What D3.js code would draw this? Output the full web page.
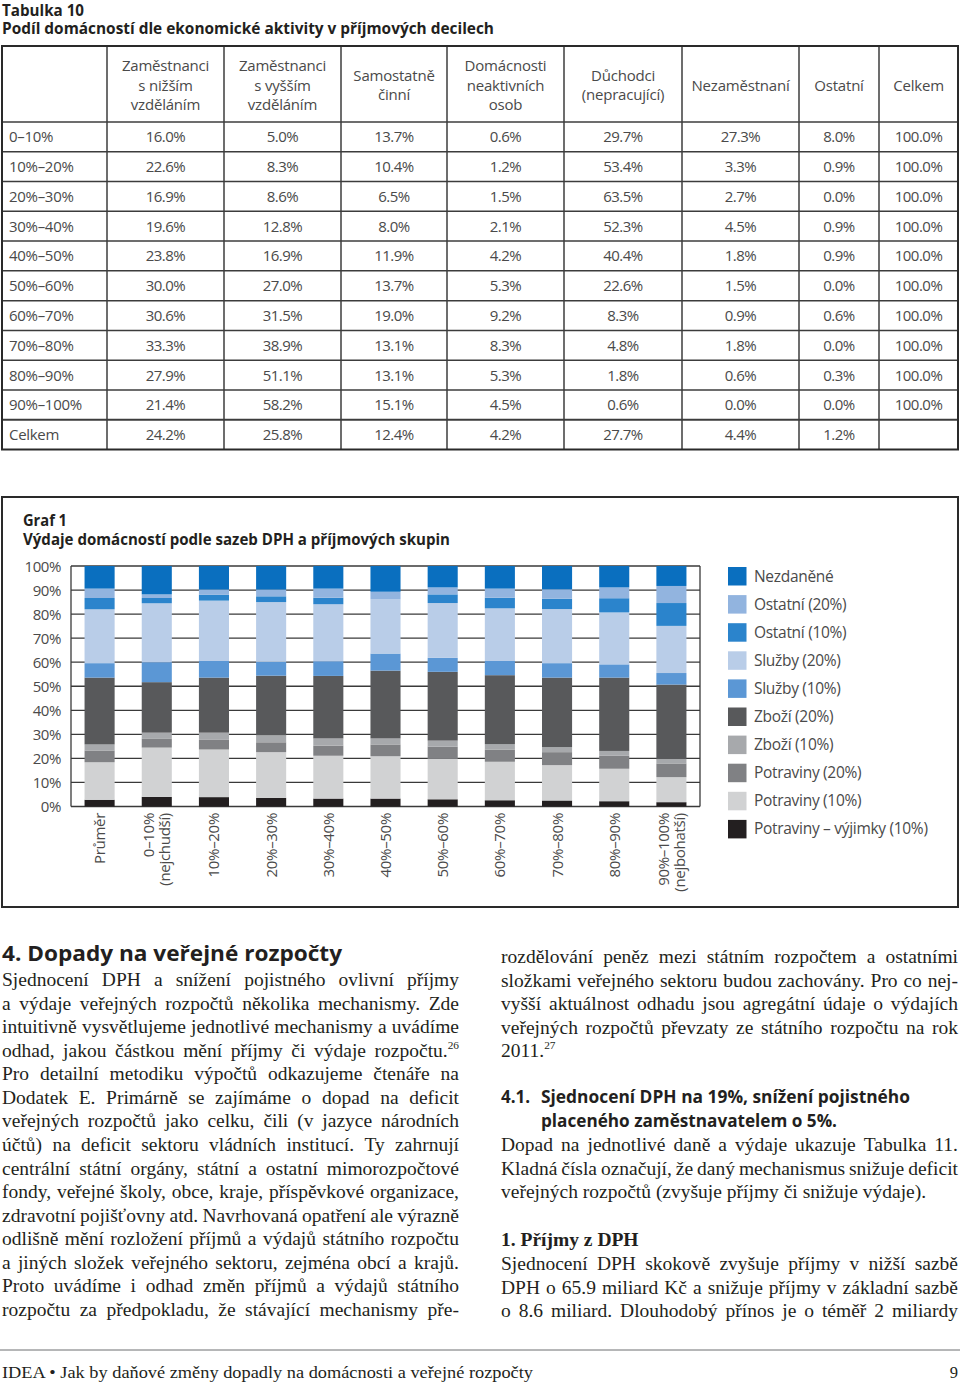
<!DOCTYPE html>
<html><head><meta charset="utf-8">
<script src="https://cdn.jsdelivr.net/npm/d3@7"></script>
<style>html,body{margin:0;padding:0;background:#fff;}svg{display:block;}</style>
</head><body>
<script>
// ---------- Table 10 data ----------
const tabColHeaders = [[], ["Zaměstnanci","s nižším","vzděláním"], ["Zaměstnanci","s vyšším","vzděláním"], ["Samostatně","činní"], ["Domácnosti","neaktivních","osob"], ["Důchodci","(nepracující)"], ["Nezaměstnaní"], ["Ostatní"], ["Celkem"]];
const tabRowLabels = ["0–10%","10%–20%","20%–30%","30%–40%","40%–50%","50%–60%","60%–70%","70%–80%","80%–90%","90%–100%","Celkem"];
const tabZamNizsi   = [16.0,22.6,16.9,19.6,23.8,30.0,30.6,33.3,27.9,21.4,24.2];
const tabZamVyssi   = [5.0,8.3,8.6,12.8,16.9,27.0,31.5,38.9,51.1,58.2,25.8];
const tabSamostatne = [13.7,10.4,6.5,8.0,11.9,13.7,19.0,13.1,13.1,15.1,12.4];
const tabNeaktivni  = [0.6,1.2,1.5,2.1,4.2,5.3,9.2,8.3,5.3,4.5,4.2];
const tabDuchodci   = [29.7,53.4,63.5,52.3,40.4,22.6,8.3,4.8,1.8,0.6,27.7];
const tabNezamestnani = [27.3,3.3,2.7,4.5,1.8,1.5,0.9,1.8,0.6,0.0,4.4];
const tabOstatni    = [8.0,0.9,0.0,0.9,0.9,0.0,0.6,0.0,0.3,0.0,1.2];
const tabCelkem     = [100,100,100,100,100,100,100,100,100,100,null];

// ---------- Graf 1 data ----------
const groups = ["Průměr","0–10% (nejchudší)","10%–20%","20%–30%","30%–40%","40%–50%","50%–60%","60%–70%","70%–80%","80%–90%","90%–100% (nejbohatší)"];
const groupLabels = [["Průměr"],["0–10%","(nejchudší)"],["10%–20%"],["20%–30%"],["30%–40%"],["40%–50%"],["50%–60%"],["60%–70%"],["70%–80%"],["80%–90%"],["90%–100%","(nejbohatší)"]];
const potravinyVyjimky = [2.8,4.0,3.9,3.6,3.3,3.3,3.0,2.6,2.5,2.2,1.8];
const potraviny10 = [15.6,20.5,19.8,19.0,17.8,17.6,16.8,16.0,14.7,13.5,10.4];
const potraviny20 = [4.9,3.8,4.0,4.1,4.2,4.9,5.1,5.1,5.4,5.5,5.7];
const zbozi10     = [2.5,2.4,3.0,2.9,3.0,2.5,2.5,2.2,2.1,1.9,1.8];
const zbozi20     = [27.8,21.0,22.9,24.8,26.0,28.2,28.6,28.7,28.9,30.5,31.0];
const sluzby10    = [6.0,8.3,6.9,5.8,6.1,7.1,5.8,5.9,6.0,5.5,4.8];
const sluzby20    = [22.4,24.5,25.1,24.8,23.7,22.5,22.8,21.9,22.5,21.6,19.6];
const ostatni10   = [4.7,2.2,2.4,2.4,2.7,0.0,3.6,4.4,4.3,5.9,9.5];
const ostatni20   = [3.9,1.5,2.2,2.8,3.8,3.2,2.9,3.8,3.9,4.5,7.1];
const nezdanene   = [9.4,11.8,9.8,9.8,9.4,10.7,8.9,9.4,9.7,8.9,8.3];
const seriesNames = ["Potraviny – výjimky (10%)","Potraviny (10%)","Potraviny (20%)","Zboží (10%)","Zboží (20%)","Služby (10%)","Služby (20%)","Ostatní (10%)","Ostatní (20%)","Nezdaněné"];
const seriesValues = [potravinyVyjimky,potraviny10,potraviny20,zbozi10,zbozi20,sluzby10,sluzby20,ostatni10,ostatni20,nezdanene];
const seriesColors = ["#231f20","#d1d2d3","#808184","#a7a9ac","#58595b","#5b97d5","#b9cde8","#2b84cc","#92b4df","#0a6fbf"];
const yTicks = [0,10,20,30,40,50,60,70,80,90,100];

// ---------- Text ----------
const leftLines = [
 "Sjednocení DPH a snížení pojistného ovlivní příjmy",
 "a výdaje veřejných rozpočtů několika mechanismy. Zde",
 "intuitivně vysvětlujeme jednotlivé mechanismy a uvádíme",
 "odhad, jakou částkou mění příjmy či výdaje rozpočtu.^26",
 "Pro detailní metodiku výpočtů odkazujeme čtenáře na",
 "Dodatek E. Primárně se zajímáme o dopad na deficit",
 "veřejných rozpočtů jako celku, čili (v jazyce národních",
 "účtů) na deficit sektoru vládních institucí. Ty zahrnují",
 "centrální státní orgány, státní a ostatní mimorozpočtové",
 "fondy, veřejné školy, obce, kraje, příspěvkové organizace,",
 "zdravotní pojišťovny atd. Navrhovaná opatření ale výrazně",
 "odlišně mění rozložení příjmů a výdajů státního rozpočtu",
 "a jiných složek veřejného sektoru, zejména obcí a krajů.",
 "Proto uvádíme i odhad změn příjmů a výdajů státního",
 "rozpočtu za předpokladu, že stávající mechanismy pře-"
];
const rightBlockA = [
 "rozdělování peněz mezi státním rozpočtem a ostatními",
 "složkami veřejného sektoru budou zachovány. Pro co nej-",
 "vyšší aktuálnost odhadu jsou agregátní údaje o výdajích",
 "veřejných rozpočtů převzaty ze státního rozpočtu na rok",
 "2011.^27"
];
const rightBlockB = [
 "Dopad na jednotlivé daně a výdaje ukazuje Tabulka 11.",
 "Kladná čísla označují, že daný mechanismus snižuje deficit",
 "veřejných rozpočtů (zvyšuje příjmy či snižuje výdaje)."
];
const rightBlockC = [
 "Sjednocení DPH skokově zvyšuje příjmy v nižší sazbě",
 "DPH o 65.9 miliard Kč a snižuje příjmy v základní sazbě",
 "o 8.6 miliard. Dlouhodobý přínos je o téměř 2 miliardy"
];

// ---------- Drawing ----------
const SANS = "'Open Sans','Noto Sans',sans-serif";
const SERIF = "'Liberation Serif','DejaVu Serif',serif";
const INK = "#231f20";
const GRAYTXT = "#4a4a4a";
const svg = d3.select("body").append("svg").attr("width",960).attr("height",1385);

function fitText(sel, w){
  const n = sel.node(); const cur = n.getComputedTextLength();
  if (Math.abs(cur - w) > 1) sel.attr("textLength", w).attr("lengthAdjust","spacingAndGlyphs");
  return sel;
}

// Titles
fitText(svg.append("text").attr("x",2).attr("y",15.5).attr("font-family",SANS).attr("font-weight",700).attr("font-size",15.5).attr("fill",INK).text("Tabulka 10"),82);
fitText(svg.append("text").attr("x",2).attr("y",34).attr("font-family",SANS).attr("font-weight",700).attr("font-size",16).attr("fill",INK).text("Podíl domácností dle ekonomické aktivity v příjmových decilech"),492);

// Table
const colX = [2,107,224,341,447,564,682,799,879,958];
const tTop = 46, hdrBottom = 122, rowH = (449.5-122)/11;
const tg = svg.append("g");
const tableCols = [tabZamNizsi,tabZamVyssi,tabSamostatne,tabNeaktivni,tabDuchodci,tabNezamestnani,tabOstatni,tabCelkem];
const hLines = [hdrBottom].concat(d3.range(1,11).map(i=>hdrBottom+i*rowH));
tg.selectAll("line.h").data(hLines).join("line").attr("x1",2).attr("x2",958).attr("y1",d=>d).attr("y2",d=>d)
  .attr("stroke","#3c3c3c").attr("stroke-width",(d,i)=> i===10?2:1.5);
tg.selectAll("line.v").data(colX.slice(1,-1)).join("line").attr("x1",d=>d).attr("x2",d=>d).attr("y1",tTop).attr("y2",449.5)
  .attr("stroke","#3c3c3c").attr("stroke-width",1.5);
tg.append("rect").attr("x",2).attr("y",tTop).attr("width",956).attr("height",449.5-tTop).attr("fill","none").attr("stroke","#2a2a2a").attr("stroke-width",2);
tabColHeaders.forEach((lines,ci)=>{
  const cx = (colX[ci]+colX[ci+1])/2;
  const n = lines.length, mid = 85, lh = 19.5;
  lines.forEach((s,li)=>{
    tg.append("text").attr("x",cx).attr("y",mid + (li-(n-1)/2)*lh + 5.5).attr("text-anchor","middle")
      .attr("font-family",SANS).attr("font-weight",400).attr("font-size",15).attr("letter-spacing",-0.2).attr("fill",GRAYTXT).text(s);
  });
});
tabRowLabels.forEach((lab,ri)=>{
  const y = hdrBottom + (ri+0.5)*rowH + 5.5;
  tg.append("text").attr("x",9).attr("y",y).attr("font-family",SANS).attr("font-weight",400).attr("font-size",15).attr("letter-spacing",-0.3).attr("fill",GRAYTXT).text(lab);
  tableCols.forEach((col,ci)=>{
    const v = col[ri]; if (v==null) return;
    const cx = (colX[ci+1]+colX[ci+2])/2;
    tg.append("text").attr("x",cx).attr("y",y).attr("text-anchor","middle").attr("font-family",SANS).attr("font-weight",400)
      .attr("font-size",15).attr("letter-spacing",-0.5).attr("fill",GRAYTXT).text(v.toFixed(1)+"%");
  });
});

// Chart box
svg.append("rect").attr("x",2).attr("y",497).attr("width",956).attr("height",410).attr("fill","none").attr("stroke","#2a2a2a").attr("stroke-width",2);
fitText(svg.append("text").attr("x",23).attr("y",525.5).attr("font-family",SANS).attr("font-weight",700).attr("font-size",15.5).attr("fill",INK).text("Graf 1"),44);
fitText(svg.append("text").attr("x",23).attr("y",544.5).attr("font-family",SANS).attr("font-weight",700).attr("font-size",15.5).attr("fill",INK).text("Výdaje domácností podle sazeb DPH a příjmových skupin"),427);

const x = d3.scaleBand().domain(groups).range([71,700]).paddingInner(0.474).paddingOuter(0.237);
const y = d3.scaleLinear().domain([0,100]).range([806.5,566]);
const cg = svg.append("g");
cg.selectAll("line.grid").data(yTicks).join("line").attr("x1",71).attr("x2",700).attr("y1",d=>y(d)).attr("y2",d=>y(d))
  .attr("stroke","#3a3a3a").attr("stroke-width",1.3);
cg.append("line").attr("x1",71).attr("x2",71).attr("y1",y(100)).attr("y2",y(0)).attr("stroke","#3a3a3a").attr("stroke-width",1.3);
cg.append("line").attr("x1",700).attr("x2",700).attr("y1",y(100)).attr("y2",y(0)).attr("stroke","#3a3a3a").attr("stroke-width",1.3);
cg.selectAll("text.yt").data(yTicks).join("text").attr("x",61).attr("y",d=>y(d)+5.5).attr("text-anchor","end")
  .attr("font-family",SANS).attr("font-weight",400).attr("font-size",15).attr("letter-spacing",-0.4).attr("fill",GRAYTXT).text(d=>d+"%");

const table = groups.map((g,i)=>{ const o={group:g}; seriesNames.forEach((s,k)=>o[s]=seriesValues[k][i]); return o; });
const stacked = d3.stack().keys(seriesNames)(table);
cg.selectAll("g.series").data(stacked).join("g").attr("fill",(d,i)=>seriesColors[i])
  .selectAll("rect").data(d=>d).join("rect")
  .attr("x",d=>x(d.data.group)).attr("width",x.bandwidth())
  .attr("y",d=>y(d[1])).attr("height",d=>Math.max(0,y(d[0])-y(d[1])));

groups.forEach((g,i)=>{
  const cx = x(g)+x.bandwidth()/2;
  const lines = groupLabels[i];
  lines.forEach((s,li)=>{
    const off = lines.length===1 ? 0 : (li===0 ? -8 : 8);
    const bx = cx + off + 5.5;
    cg.append("text").attr("transform",`translate(${bx},813) rotate(-90)`).attr("text-anchor","end")
      .attr("font-family",SANS).attr("font-weight",400).attr("font-size",15).attr("letter-spacing",-0.3).attr("fill",GRAYTXT).text(s);
  });
});

const legendOrder = d3.range(seriesNames.length).reverse();
legendOrder.forEach((k,j)=>{
  const ly = 567 + j*28.1;
  cg.append("rect").attr("x",728).attr("y",ly).attr("width",18.5).attr("height",18.5).attr("fill",seriesColors[k]);
  cg.append("text").attr("x",754).attr("y",ly+14.5).attr("font-family",SANS).attr("font-weight",400).attr("font-size",15.5)
    .attr("letter-spacing",-0.3).attr("fill",GRAYTXT).text(seriesNames[k]);
});

// ---------- body text ----------
const tg2 = svg.append("g");
function makeWords(parent, str, fs, weight){
  return str.split(" ").map(wd=>{
    const t = parent.append("text").attr("font-family",SERIF).attr("font-size",fs).attr("font-weight",weight||400).attr("fill",INK);
    const parts = wd.split("^");
    t.append("tspan").text(parts[0]);
    if (parts[1]) t.append("tspan").attr("font-size",fs*0.58).attr("dy",-fs*0.4).text(parts[1]);
    return t;
  });
}
function naturalWidth(str, fs){
  const g = svg.append("g");
  const els = makeWords(g, str, fs);
  const w = d3.sum(els, e=>e.node().getComputedTextLength()) + (els.length-1)*fs*0.14;
  g.remove(); return w;
}
const justAll = leftLines.concat(rightBlockA.slice(0,4), rightBlockB.slice(0,2), rightBlockC);
const baseFs = 18;
const maxNat = d3.max(justAll, s=>naturalWidth(s, baseFs));
const FS = Math.max(16, Math.min(19.5, baseFs*0.995*457/maxNat));
function drawLine(str, x0, w, yb, justify){
  const els = makeWords(tg2, str, FS);
  const ws = els.map(e=>e.node().getComputedTextLength());
  const gap = (justify && els.length>1) ? (w - d3.sum(ws))/(els.length-1) : FS*0.25;
  let xx = x0;
  els.forEach((e,i)=>{ e.attr("x",xx).attr("y",yb); xx += ws[i]+gap; });
}
const LH = 23.57;
fitText(tg2.append("text").attr("x",2).attr("y",961).attr("font-family",SANS).attr("font-weight",700).attr("font-size",22).attr("fill",INK).text("4.  Dopady na veřejné rozpočty"),340);
leftLines.forEach((s,i)=>drawLine(s, 2, 457, 986 + i*LH, true));
rightBlockA.forEach((s,i)=>drawLine(s, 501, 457, 963 + i*LH, i<4));
tg2.append("text").attr("x",501).attr("y",1103).attr("font-family",SANS).attr("font-weight",700).attr("font-size",17).attr("fill",INK).text("4.1.");
fitText(tg2.append("text").attr("x",541).attr("y",1103).attr("font-family",SANS).attr("font-weight",700).attr("font-size",17).attr("fill",INK).text("Sjednocení DPH na 19%, snížení pojistného"),369);
fitText(tg2.append("text").attr("x",541).attr("y",1127).attr("font-family",SANS).attr("font-weight",700).attr("font-size",17).attr("fill",INK).text("placeného zaměstnavatelem o 5%."),296);
rightBlockB.forEach((s,i)=>drawLine(s, 501, 457, 1151 + i*LH, i<2));
fitText(tg2.append("text").attr("x",501).attr("y",1246).attr("font-family",SERIF).attr("font-weight",700).attr("font-size",FS).attr("fill",INK).text("1. Příjmy z DPH"),137);
rightBlockC.forEach((s,i)=>drawLine(s, 501, 457, 1270 + i*LH, true));

// footer
svg.append("line").attr("x1",0).attr("x2",960).attr("y1",1350).attr("y2",1350).attr("stroke","#6d6e71").attr("stroke-width",1);
fitText(svg.append("text").attr("x",2).attr("y",1378).attr("font-family",SERIF).attr("font-size",16.5).attr("fill",INK).text("IDEA  •  Jak by daňové změny dopadly na domácnosti a veřejné rozpočty"),531);
svg.append("text").attr("x",958).attr("y",1378).attr("text-anchor","end").attr("font-family",SERIF).attr("font-size",16.5).attr("fill",INK).text("9");
</script>
</body></html>
